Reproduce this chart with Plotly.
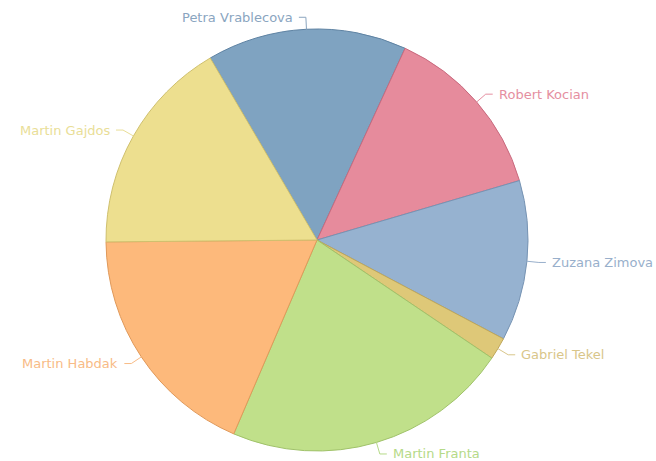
import math
import plotly.graph_objects as go

names = ["Petra Vrablecova", "Robert Kocian", "Zuzana Zimova", "Gabriel Tekel",
         "Martin Franta", "Martin Habdak", "Martin Gajdos"]
values = [15.3, 13.6, 12.3, 1.7, 22.0, 18.4, 16.7]
colors = ["#7fa3c1", "#e68b9c", "#96b2d0", "#dec878", "#c0e08a", "#fdb97b", "#eddf8f"]
borders = ["#5f83a3", "#c86a7e", "#7693b3", "#bfa75a", "#a0c26a", "#e0995a", "#cfc06e"]
text_colors = ["#8aa5bf", "#e58fa1", "#98afcb", "#d9c68a", "#b5da88", "#f8bb86", "#e9de97"]

W, H = 656, 461
cx, cy, R = 317, 240, 211
start_deg = 329.6

fig = go.Figure(go.Pie(
    labels=names, values=values, sort=False, direction="clockwise",
    rotation=start_deg - 360,
    marker=dict(colors=colors, line=dict(color=borders, width=1)),
    textinfo="none", hoverinfo="label+percent", showlegend=False,
    domain=dict(x=[(cx - R) / W, (cx + R) / W], y=[1 - (cy + R) / H, 1 - (cy - R) / H]),
))

def px(x, y):
    return x / W, 1 - y / H

shapes, annotations = [], []
total = sum(values)
acc = 0.0
for name, v, tc in zip(names, values, text_colors):
    mid = math.radians(start_deg + (acc + v / 2) / total * 360)
    acc += v
    sx, sy = math.sin(mid), -math.cos(mid)
    ex, ey = cx + R * sx, cy + R * sy
    bx, by = cx + (R + 12) * sx, cy + (R + 12) * sy
    side = 1 if sx >= 0 else -1
    hx = bx + 7 * side
    pts = [px(ex, ey), px(bx, by), px(hx, by)]
    path = "M {} {} L {} {} L {} {}".format(*[c for p in pts for c in p])
    shapes.append(dict(type="path", xref="paper", yref="paper", path=path,
                       line=dict(color=tc, width=1)))
    tx, ty = px(hx + 4 * side, by)
    annotations.append(dict(x=tx, y=ty, xref="paper", yref="paper", text=name,
                            showarrow=False, xanchor="left" if side > 0 else "right",
                            yanchor="middle",
                            font=dict(family="DejaVu Sans", size=13, color=tc)))

fig.update_layout(width=W, height=H, margin=dict(l=0, r=0, t=0, b=0),
                  paper_bgcolor="white", plot_bgcolor="white",
                  shapes=shapes, annotations=annotations)
fig.write_html("out.html")
